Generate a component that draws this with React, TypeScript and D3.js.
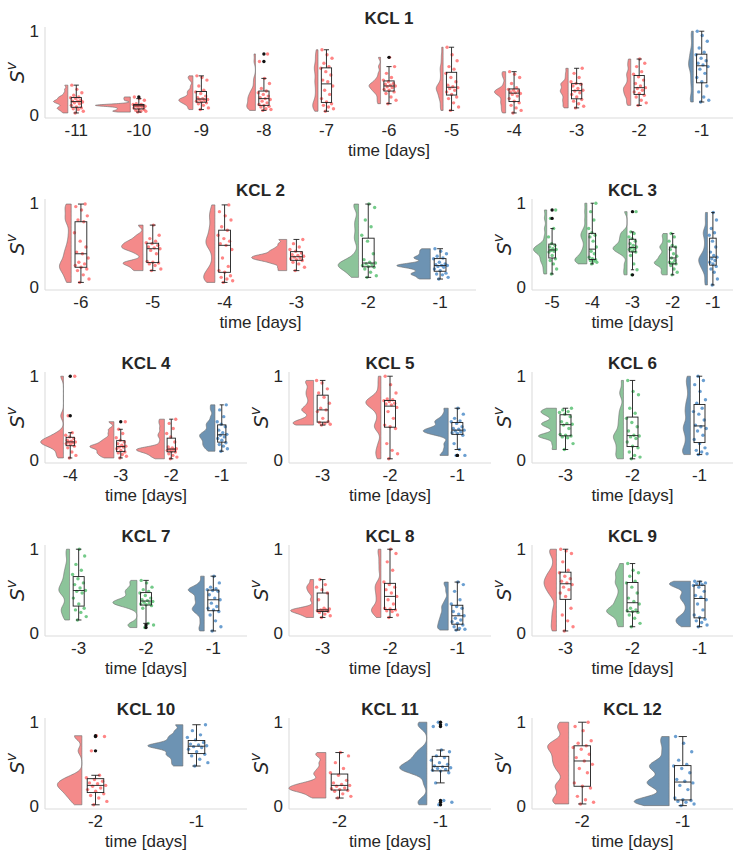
import * as d3 from "d3";

type Kind = "r" | "g" | "b";

const FILL: Record<Kind, string> = { r: "#f48a8a", g: "#8cc49a", b: "#6d93b3" };
const DOT: Record<Kind, string> = { r: "#ff5c5c", g: "#45b862", b: "#3a7fc2" };

// KCL 1
const kcl1Days = ["-11", "-10", "-9", "-8", "-7", "-6", "-5", "-4", "-3", "-2", "-1"];
const kcl1Kinds: Kind[] = ["r", "r", "r", "r", "r", "r", "r", "r", "r", "r", "b"];
const kcl1Values = [
  [0.03, 0.05, 0.07, 0.08, 0.09, 0.1, 0.12, 0.14, 0.15, 0.16, 0.17, 0.17, 0.18, 0.2, 0.21, 0.22, 0.24, 0.27, 0.31, 0.36],
  [0.04, 0.05, 0.05, 0.06, 0.07, 0.08, 0.09, 0.1, 0.11, 0.11, 0.12, 0.12, 0.12, 0.12, 0.13, 0.13, 0.14, 0.18, 0.2, 0.22],
  [0.07, 0.09, 0.12, 0.14, 0.15, 0.16, 0.17, 0.18, 0.19, 0.19, 0.2, 0.21, 0.23, 0.26, 0.28, 0.3, 0.35, 0.42, 0.45, 0.47],
  [0.06, 0.07, 0.08, 0.1, 0.11, 0.12, 0.13, 0.15, 0.17, 0.19, 0.2, 0.21, 0.23, 0.25, 0.27, 0.29, 0.32, 0.38, 0.44, 0.64, 0.73],
  [0.05, 0.08, 0.1, 0.12, 0.14, 0.16, 0.2, 0.25, 0.3, 0.35, 0.4, 0.42, 0.48, 0.52, 0.56, 0.58, 0.62, 0.68, 0.72, 0.78],
  [0.14, 0.18, 0.22, 0.26, 0.28, 0.3, 0.31, 0.33, 0.34, 0.35, 0.36, 0.37, 0.38, 0.4, 0.42, 0.45, 0.5, 0.58, 0.69],
  [0.06, 0.1, 0.15, 0.2, 0.22, 0.25, 0.28, 0.3, 0.32, 0.33, 0.34, 0.36, 0.4, 0.45, 0.5, 0.55, 0.58, 0.65, 0.72, 0.81],
  [0.03, 0.06, 0.09, 0.12, 0.15, 0.17, 0.2, 0.23, 0.25, 0.26, 0.27, 0.28, 0.29, 0.3, 0.31, 0.33, 0.38, 0.45, 0.49, 0.52],
  [0.09, 0.11, 0.14, 0.17, 0.19, 0.22, 0.25, 0.27, 0.29, 0.3, 0.32, 0.35, 0.37, 0.38, 0.4, 0.45, 0.5, 0.56],
  [0.12, 0.15, 0.18, 0.22, 0.24, 0.26, 0.28, 0.3, 0.32, 0.33, 0.35, 0.38, 0.42, 0.46, 0.49, 0.52, 0.58, 0.62, 0.67],
  [0.16, 0.18, 0.22, 0.28, 0.35, 0.4, 0.45, 0.5, 0.55, 0.58, 0.6, 0.62, 0.65, 0.68, 0.72, 0.75, 0.8, 0.88, 0.95, 1.0],
];

// KCL 2
const kcl2Days = ["-6", "-5", "-4", "-3", "-2", "-1"];
const kcl2Kinds: Kind[] = ["r", "r", "r", "r", "g", "b"];
const kcl2Values = [
  [0.06, 0.1, 0.15, 0.2, 0.22, 0.24, 0.26, 0.28, 0.3, 0.35, 0.4, 0.42, 0.48, 0.55, 0.65, 0.78, 0.8, 0.85, 0.92, 0.96, 0.99],
  [0.2, 0.22, 0.26, 0.28, 0.29, 0.3, 0.31, 0.4, 0.44, 0.46, 0.47, 0.48, 0.5, 0.52, 0.53, 0.55, 0.58, 0.62, 0.74],
  [0.06, 0.08, 0.1, 0.12, 0.14, 0.18, 0.2, 0.25, 0.35, 0.45, 0.5, 0.52, 0.55, 0.58, 0.62, 0.68, 0.72, 0.8, 0.85, 0.9, 0.98],
  [0.2, 0.24, 0.28, 0.3, 0.32, 0.33, 0.34, 0.35, 0.36, 0.37, 0.38, 0.39, 0.41, 0.43, 0.45, 0.48, 0.52, 0.57],
  [0.12, 0.14, 0.18, 0.22, 0.24, 0.25, 0.26, 0.27, 0.28, 0.29, 0.3, 0.33, 0.4, 0.55, 0.62, 0.72, 0.8, 0.95, 0.99],
  [0.1, 0.12, 0.15, 0.16, 0.17, 0.2, 0.22, 0.24, 0.25, 0.26, 0.26, 0.27, 0.28, 0.3, 0.34, 0.35, 0.37, 0.4, 0.43, 0.46],
];

// KCL 3
const kcl3Days = ["-5", "-4", "-3", "-2", "-1"];
const kcl3Kinds: Kind[] = ["g", "g", "g", "g", "b"];
const kcl3Values = [
  [0.16, 0.22, 0.28, 0.32, 0.34, 0.38, 0.42, 0.43, 0.44, 0.45, 0.46, 0.48, 0.5, 0.52, 0.6, 0.7, 0.82, 0.92],
  [0.28, 0.3, 0.31, 0.32, 0.33, 0.34, 0.36, 0.4, 0.43, 0.48, 0.55, 0.6, 0.62, 0.65, 0.7, 0.8, 0.9, 1.0],
  [0.15, 0.21, 0.28, 0.38, 0.42, 0.43, 0.45, 0.46, 0.47, 0.48, 0.5, 0.52, 0.55, 0.58, 0.6, 0.64, 0.66, 0.9],
  [0.15, 0.18, 0.22, 0.26, 0.28, 0.29, 0.3, 0.32, 0.35, 0.37, 0.4, 0.45, 0.48, 0.5, 0.55, 0.6, 0.64],
  [0.03, 0.1, 0.18, 0.22, 0.25, 0.28, 0.3, 0.32, 0.34, 0.36, 0.38, 0.42, 0.48, 0.55, 0.62, 0.65, 0.7, 0.8, 0.89],
];

// KCL 4
const kcl4Days = ["-4", "-3", "-2", "-1"];
const kcl4Kinds: Kind[] = ["r", "r", "r", "b"];
const kcl4Values = [
  [0.03, 0.06, 0.1, 0.15, 0.17, 0.19, 0.2, 0.21, 0.22, 0.22, 0.23, 0.24, 0.26, 0.28, 0.3, 0.33, 0.53, 1.0],
  [0.03, 0.05, 0.07, 0.09, 0.1, 0.12, 0.14, 0.16, 0.16, 0.17, 0.18, 0.2, 0.22, 0.24, 0.27, 0.32, 0.37, 0.46],
  [0.02, 0.04, 0.06, 0.08, 0.1, 0.11, 0.12, 0.13, 0.13, 0.14, 0.15, 0.16, 0.22, 0.28, 0.32, 0.38, 0.44, 0.49],
  [0.11, 0.14, 0.17, 0.19, 0.21, 0.24, 0.26, 0.28, 0.3, 0.31, 0.33, 0.36, 0.4, 0.43, 0.46, 0.52, 0.6, 0.66],
];

// KCL 5
const kcl5Days = ["-3", "-2", "-1"];
const kcl5Kinds: Kind[] = ["r", "r", "b"];
const kcl5Values = [
  [0.42, 0.43, 0.44, 0.45, 0.46, 0.5, 0.58, 0.6, 0.62, 0.68, 0.75, 0.8, 0.85, 0.92, 0.95],
  [0.02, 0.08, 0.12, 0.2, 0.38, 0.4, 0.42, 0.5, 0.58, 0.63, 0.66, 0.67, 0.68, 0.7, 0.71, 0.72, 0.73, 0.8, 0.9, 1.0],
  [0.06, 0.06, 0.13, 0.2, 0.3, 0.32, 0.33, 0.34, 0.35, 0.36, 0.37, 0.38, 0.4, 0.44, 0.46, 0.47, 0.5, 0.55, 0.62],
];

// KCL 6
const kcl6Days = ["-3", "-2", "-1"];
const kcl6Kinds: Kind[] = ["g", "g", "b"];
const kcl6Values = [
  [0.13, 0.2, 0.27, 0.28, 0.29, 0.3, 0.31, 0.38, 0.42, 0.43, 0.44, 0.46, 0.52, 0.55, 0.57, 0.58, 0.6, 0.62],
  [0.02, 0.04, 0.06, 0.1, 0.15, 0.17, 0.22, 0.26, 0.28, 0.29, 0.3, 0.35, 0.4, 0.45, 0.5, 0.56, 0.62, 0.78, 0.82, 0.95],
  [0.07, 0.08, 0.1, 0.12, 0.15, 0.2, 0.25, 0.3, 0.35, 0.38, 0.4, 0.42, 0.48, 0.55, 0.58, 0.62, 0.68, 0.72, 0.82, 0.9, 0.95, 1.0],
];

// KCL 7
const kcl7Days = ["-3", "-2", "-1"];
const kcl7Kinds: Kind[] = ["g", "g", "b"];
const kcl7Values = [
  [0.16, 0.2, 0.25, 0.28, 0.3, 0.35, 0.42, 0.48, 0.5, 0.51, 0.54, 0.58, 0.6, 0.65, 0.7, 0.75, 0.82, 0.92, 1.0],
  [0.07, 0.1, 0.12, 0.3, 0.33, 0.34, 0.35, 0.36, 0.37, 0.38, 0.39, 0.4, 0.42, 0.45, 0.48, 0.5, 0.52, 0.55, 0.6, 0.63],
  [0.03, 0.08, 0.15, 0.22, 0.26, 0.28, 0.3, 0.32, 0.36, 0.4, 0.42, 0.46, 0.5, 0.51, 0.52, 0.53, 0.55, 0.6, 0.68],
];

// KCL 8
const kcl8Days = ["-3", "-2", "-1"];
const kcl8Kinds: Kind[] = ["r", "r", "b"];
const kcl8Values = [
  [0.19, 0.21, 0.23, 0.25, 0.26, 0.27, 0.27, 0.28, 0.28, 0.29, 0.3, 0.4, 0.48, 0.52, 0.55, 0.58, 0.64],
  [0.19, 0.22, 0.26, 0.27, 0.28, 0.29, 0.3, 0.35, 0.4, 0.44, 0.48, 0.52, 0.55, 0.58, 0.61, 0.75, 0.85, 0.95, 1.0],
  [0.04, 0.05, 0.06, 0.08, 0.1, 0.12, 0.14, 0.16, 0.18, 0.21, 0.23, 0.26, 0.3, 0.32, 0.35, 0.4, 0.5, 0.58, 0.61],
];

// KCL 9
const kcl9Days = ["-3", "-2", "-1"];
const kcl9Kinds: Kind[] = ["r", "g", "b"];
const kcl9Values = [
  [0.03, 0.08, 0.15, 0.22, 0.3, 0.44, 0.48, 0.52, 0.55, 0.58, 0.6, 0.62, 0.65, 0.68, 0.72, 0.75, 0.85, 0.95, 0.98, 1.0],
  [0.08, 0.12, 0.18, 0.22, 0.25, 0.26, 0.27, 0.28, 0.3, 0.35, 0.38, 0.42, 0.48, 0.55, 0.6, 0.62, 0.68, 0.72, 0.75, 0.83],
  [0.08, 0.1, 0.13, 0.15, 0.17, 0.19, 0.22, 0.28, 0.35, 0.4, 0.43, 0.45, 0.5, 0.55, 0.57, 0.58, 0.59, 0.6, 0.61, 0.62],
];

// KCL 10
const kcl10Days = ["-2", "-1"];
const kcl10Kinds: Kind[] = ["r", "b"];
const kcl10Values = [
  [0.02, 0.06, 0.1, 0.13, 0.15, 0.18, 0.2, 0.22, 0.24, 0.25, 0.27, 0.28, 0.3, 0.32, 0.34, 0.37, 0.66, 0.83, 0.84],
  [0.48, 0.52, 0.56, 0.6, 0.62, 0.65, 0.68, 0.7, 0.71, 0.72, 0.73, 0.74, 0.76, 0.79, 0.82, 0.85, 0.9, 0.97],
];

// KCL 11
const kcl11Days = ["-2", "-1"];
const kcl11Kinds: Kind[] = ["r", "b"];
const kcl11Values = [
  [0.1, 0.12, 0.15, 0.18, 0.19, 0.2, 0.21, 0.22, 0.24, 0.25, 0.26, 0.28, 0.31, 0.37, 0.4, 0.45, 0.52, 0.6, 0.64],
  [0.02, 0.05, 0.07, 0.28, 0.4, 0.42, 0.43, 0.44, 0.45, 0.46, 0.47, 0.48, 0.5, 0.52, 0.55, 0.58, 0.6, 0.65, 0.67, 0.95, 0.97, 1.0],
];

// KCL 12
const kcl12Days = ["-2", "-1"];
const kcl12Kinds: Kind[] = ["r", "b"];
const kcl12Values = [
  [0.03, 0.05, 0.08, 0.12, 0.22, 0.24, 0.28, 0.4, 0.45, 0.5, 0.54, 0.58, 0.62, 0.68, 0.7, 0.72, 0.75, 0.78, 0.9, 0.95, 1.0],
  [0.01, 0.03, 0.05, 0.06, 0.07, 0.08, 0.1, 0.2, 0.25, 0.28, 0.3, 0.32, 0.4, 0.45, 0.48, 0.5, 0.55, 0.65, 0.75, 0.83],
];

const yTicks = [0, 1];

const ROW_TOP = [27, 199, 372, 545, 718];
const PLOT_H = 91;
const TEXT = "#262626";
const FONT = "'Liberation Sans', Arial, sans-serif";

interface PanelDef {
  title: string;
  days: string[];
  kinds: Kind[];
  values: number[][];
  row: number;
  x0: number;
  x1: number;
  maxW: number;
}

const panels: PanelDef[] = [
  { title: "KCL 1", days: kcl1Days, kinds: kcl1Kinds, values: kcl1Values, row: 0, x0: 45, x1: 733, maxW: 35 },
  { title: "KCL 2", days: kcl2Days, kinds: kcl2Kinds, values: kcl2Values, row: 1, x0: 45, x1: 476, maxW: 35 },
  { title: "KCL 3", days: kcl3Days, kinds: kcl3Kinds, values: kcl3Values, row: 1, x0: 532, x1: 733, maxW: 14 },
  { title: "KCL 4", days: kcl4Days, kinds: kcl4Kinds, values: kcl4Values, row: 2, x0: 45, x1: 247, maxW: 28 },
  { title: "KCL 5", days: kcl5Days, kinds: kcl5Kinds, values: kcl5Values, row: 2, x0: 289, x1: 491, maxW: 25 },
  { title: "KCL 6", days: kcl6Days, kinds: kcl6Kinds, values: kcl6Values, row: 2, x0: 532, x1: 733, maxW: 18 },
  { title: "KCL 7", days: kcl7Days, kinds: kcl7Kinds, values: kcl7Values, row: 3, x0: 45, x1: 247, maxW: 24 },
  { title: "KCL 8", days: kcl8Days, kinds: kcl8Kinds, values: kcl8Values, row: 3, x0: 289, x1: 491, maxW: 23 },
  { title: "KCL 9", days: kcl9Days, kinds: kcl9Kinds, values: kcl9Values, row: 3, x0: 532, x1: 733, maxW: 21 },
  { title: "KCL 10", days: kcl10Days, kinds: kcl10Kinds, values: kcl10Values, row: 4, x0: 45, x1: 247, maxW: 35 },
  { title: "KCL 11", days: kcl11Days, kinds: kcl11Kinds, values: kcl11Values, row: 4, x0: 289, x1: 491, maxW: 37 },
  { title: "KCL 12", days: kcl12Days, kinds: kcl12Kinds, values: kcl12Values, row: 4, x0: 532, x1: 733, maxW: 35 },
];

// gaussian kde with bandwidth = 0.2 * sd, cut at data range (like the raincloud defaults)
function groupStats(vals: number[]) {
  const s = vals.slice().sort(d3.ascending);
  const n = s.length;
  const h = 0.2 * (d3.deviation(s) ?? 0.1);
  const lo = s[0];
  const hi = s[n - 1];
  const grid = d3.range(100).map((i) => lo + ((hi - lo) * i) / 99);
  const dens = grid.map(
    (g) => d3.sum(s, (v) => Math.exp(-0.5 * ((g - v) / h) ** 2)) / (n * h * Math.sqrt(2 * Math.PI))
  );
  const q1 = d3.quantile(s, 0.25) ?? 0;
  const med = d3.quantile(s, 0.5) ?? 0;
  const q3 = d3.quantile(s, 0.75) ?? 0;
  const iqr = q3 - q1;
  const loF = q1 - 1.5 * iqr - 1e-9;
  const hiF = q3 + 1.5 * iqr + 1e-9;
  const inside = s.filter((v) => v >= loF && v <= hiF);
  const out = s.filter((v) => v < loF || v > hiF);
  return { s, grid, dens, q1, med, q3, wLo: d3.min(inside) ?? q1, wHi: d3.max(inside) ?? q3, out };
}

const jitter = (i: number) => ((i * 0.6180339887 + 0.37) % 1) - 0.5;

function Panel({ p }: { p: PanelDef }) {
  const top = ROW_TOP[p.row];
  const bottom = top + PLOT_H;
  const x = d3.scaleBand<string>().domain(p.days).range([p.x0, p.x1]);
  const y = d3.scaleLinear().domain([-0.03, 1.05]).range([bottom, top]);
  const bw = x.bandwidth();
  const stats = p.values.map(groupStats);
  const maxD = d3.max(stats, (st) => d3.max(st.dens) ?? 0) ?? 1;
  const w = d3.scaleLinear().domain([0, maxD]).range([0, p.maxW]);
  const boxHalf = bw * 0.082;
  const mid = (p.x0 + p.x1) / 2;

  return (
    <g>
      <text x={mid} y={top - 3} textAnchor="middle" fontSize={17} fontWeight="bold" fill={TEXT}>
        {p.title}
      </text>
      <line x1={p.x0} x2={p.x0} y1={top} y2={bottom} stroke="#dcdcdc" strokeWidth={1.1} />
      <line x1={p.x0} x2={p.x1} y1={bottom} y2={bottom} stroke="#dcdcdc" strokeWidth={1.1} />
      {yTicks.map((t) => (
        <text key={t} x={p.x0 - 6} y={y(t) + 6} textAnchor="end" fontSize={17} fill={TEXT}>
          {t}
        </text>
      ))}
      <text
        transform={`translate(${p.x0 - 21},${(top + bottom) / 2}) rotate(-90)`}
        textAnchor="middle"
        fontFamily="'DejaVu Sans', sans-serif"
        fontStyle="italic"
        fill={TEXT}
      >
        <tspan fontSize={20}>S</tspan>
        <tspan fontSize={14} dy={-8}>v</tspan>
      </text>
      {p.days.map((d) => (
        <text key={d} x={(x(d) ?? 0) + bw / 2} y={bottom + 18} textAnchor="middle" fontSize={17} fill={TEXT}>
          {d}
        </text>
      ))}
      <text x={mid} y={bottom + 38} textAnchor="middle" fontSize={17} fill={TEXT}>
        time [days]
      </text>
      {stats.map((st, gi) => {
        const day = p.days[gi];
        const kind = p.kinds[gi];
        const c = (x(day) ?? 0) + bw / 2;
        const edge = c - bw * 0.135;
        const area = d3
          .area<number>()
          .y((_, i) => y(st.grid[i]))
          .x0(edge)
          .x1((d) => edge - w(d));
        return (
          <g key={day}>
            <path d={area(st.dens) ?? ""} fill={FILL[kind]} stroke="#6e6e6e" strokeWidth={0.8} strokeOpacity={0.8} />
            {st.s.map((v, i) => (
              <circle
                key={i}
                cx={c + bw * (0.01 + 0.21 * jitter(i))}
                cy={y(v)}
                r={1.7}
                fill={DOT[kind]}
                fillOpacity={0.75}
              />
            ))}
            <g stroke="#1e1e1e" strokeWidth={0.9} fill="none">
              <rect x={c - boxHalf} y={y(st.q3)} width={boxHalf * 2} height={y(st.q1) - y(st.q3)} />
              <line x1={c - boxHalf} x2={c + boxHalf} y1={y(st.med)} y2={y(st.med)} />
              <line x1={c} x2={c} y1={y(st.q3)} y2={y(st.wHi)} />
              <line x1={c} x2={c} y1={y(st.q1)} y2={y(st.wLo)} />
              <line x1={c - boxHalf / 2} x2={c + boxHalf / 2} y1={y(st.wHi)} y2={y(st.wHi)} />
              <line x1={c - boxHalf / 2} x2={c + boxHalf / 2} y1={y(st.wLo)} y2={y(st.wLo)} />
            </g>
            {st.out.map((v, i) => (
              <circle key={"o" + i} cx={c} cy={y(v)} r={1.7} fill="#111" />
            ))}
          </g>
        );
      })}
    </g>
  );
}

export default function App() {
  return (
    <svg
      width={745}
      height={859}
      style={{ position: "absolute", left: 0, top: 0, background: "#fff" }}
      fontFamily={FONT}
    >
      {panels.map((p) => (
        <Panel key={p.title} p={p} />
      ))}
    </svg>
  );
}
